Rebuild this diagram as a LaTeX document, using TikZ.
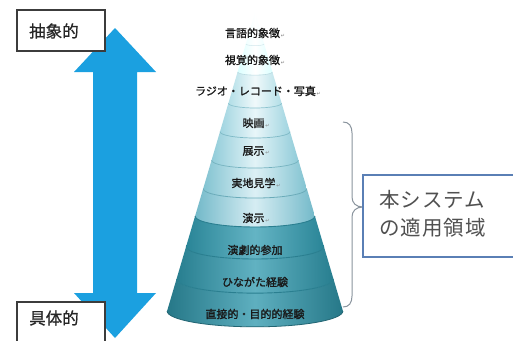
\documentclass[tikz,border=0pt]{standalone}
\usepackage{fontspec}
\newfontfamily\jp[FakeBold=1.3]{Noto Sans CJK JP}
\newfontfamily\jpside[FakeBold=0.8]{Noto Sans CJK JP}
\newfontfamily\jpwide[LetterSpace=5]{Noto Sans CJK JP}
\newfontfamily\dvs{DejaVu Sans}
\definecolor{arrowblue}{HTML}{1BA0E0}
\definecolor{boxgray}{HTML}{3C3C3C}
\definecolor{boxblue}{HTML}{5A7FB5}
\definecolor{bracegray}{HTML}{8A949E}
\definecolor{scopetext}{HTML}{505050}
\definecolor{lineA}{HTML}{8CC3CF}
\definecolor{lineB}{HTML}{2A7F90}
\definecolor{darkedge}{HTML}{2A8597}
\definecolor{darkmid}{HTML}{64B4C4}
\newcommand{\conecx}{255}
\newcommand{\coneband}[3]{%
  \pgfmathsetmacro\ra{0.295*(#1-13)}%
  \pgfmathsetmacro\rb{0.295*(#2-13)}%
  \pgfmathsetmacro\sa{0.18*\ra}%
  \pgfmathsetmacro\sb{0.18*\rb}%
  \path[#3] (\conecx-\ra,#1) -- (\conecx-\rb,#2)
    .. controls (\conecx-\rb,#2+0.5523*\sb) and (\conecx-0.5523*\rb,#2+\sb) .. (\conecx,#2+\sb)
    .. controls (\conecx+0.5523*\rb,#2+\sb) and (\conecx+\rb,#2+0.5523*\sb) .. (\conecx+\rb,#2)
    -- (\conecx+\ra,#1)
    .. controls (\conecx+\ra,#1+0.5523*\sa) and (\conecx+0.5523*\ra,#1+\sa) .. (\conecx,#1+\sa)
    .. controls (\conecx-0.5523*\ra,#1+\sa) and (\conecx-\ra,#1+0.5523*\sa) .. (\conecx-\ra,#1) -- cycle;
}
\newcommand{\conearc}[2]{%
  \pgfmathsetmacro\rb{0.295*(#1-13)}%
  \pgfmathsetmacro\sb{0.18*\rb}%
  \draw[#2] (\conecx-\rb,#1)
    .. controls (\conecx-\rb,#1+0.5523*\sb) and (\conecx-0.5523*\rb,#1+\sb) .. (\conecx,#1+\sb)
    .. controls (\conecx+0.5523*\rb,#1+\sb) and (\conecx+\rb,#1+0.5523*\sb) .. (\conecx+\rb,#1);
}
\newcommand{\retmark}{{\dvs\fontsize{5}{5}\selectfont\color{gray}\,↵}}
\begin{document}
\begin{tikzpicture}[x=1pt,y=-1pt,
  conetext/.style={font=\jp\fontsize{11}{13}\selectfont, text=black!90, inner sep=0pt},
  sidebox/.style={draw=boxgray, line width=1.1pt, fill=white},
  sidetext/.style={font=\jpside\fontsize{16.5}{18}\selectfont, text=black!85, inner sep=0pt, anchor=west},
  lband/.style={left color=#1, right color=#1},
]
\useasboundingbox (0,0) rectangle (513,340);
\fill[white] (0,0) rectangle (513,340);

% double arrow
\fill[arrowblue] (115,28) -- (156,72) -- (137,72) -- (137,293) -- (156,293)
  -- (115,338) -- (74,293) -- (93,293) -- (93,72) -- (74,72) -- cycle;

% left boxes
\draw[sidebox] (17,10) rectangle (105,51);
\node[sidetext] (abstract) at (29,31) {抽象的};
\draw[sidebox] (17,302) rectangle (105,350);
\node[sidetext] (concrete) at (29,318) {具体的};

% cone bands
\coneband{13}{44}{lband=cyan!6!white, middle color=white}
\coneband{44}{72}{lband=cyan!14!white, middle color=white}
\coneband{72}{103.2}{left color={rgb,255:red,178;green,222;blue,231}, right color={rgb,255:red,178;green,222;blue,231}, middle color={rgb,255:red,240;green,249;blue,251}}
\coneband{103.2}{131.7}{left color={rgb,255:red,160;green,212;blue,224}, right color={rgb,255:red,160;green,212;blue,224}, middle color={rgb,255:red,232;green,246;blue,249}}
\coneband{131.7}{160.2}{left color={rgb,255:red,145;green,204;blue,217}, right color={rgb,255:red,145;green,204;blue,217}, middle color={rgb,255:red,226;green,243;blue,247}}
\coneband{160.2}{188.7}{left color={rgb,255:red,130;green,195;blue,209}, right color={rgb,255:red,130;green,195;blue,209}, middle color={rgb,255:red,220;green,240;blue,245}}
\coneband{188.7}{216.2}{left color={rgb,255:red,115;green,185;blue,201}, right color={rgb,255:red,115;green,185;blue,201}, middle color={rgb,255:red,214;green,237;blue,243}}
\coneband{216.2}{246.6}{left color=darkedge, right color=darkedge, middle color=darkmid}
\coneband{246.6}{279}{left color=darkedge!95!black, right color=darkedge!95!black, middle color=darkmid!95!darkedge}
\coneband{279}{311}{left color=darkedge!90!black, right color=darkedge!90!black, middle color=darkmid!90!darkedge}

% band boundaries
\conearc{44}{lineA!40!white, line width=0.5pt}
\conearc{72}{lineA!60!white, line width=0.6pt}
\conearc{103.2}{lineA, line width=0.7pt}
\conearc{131.7}{lineA!85!lineB, line width=0.7pt}
\conearc{160.2}{lineA!75!lineB, line width=0.7pt}
\conearc{188.7}{lineA!65!lineB, line width=0.8pt}
\conearc{216.2}{lineB, line width=0.9pt}
\conearc{246.6}{lineB, line width=0.9pt}
\conearc{279}{lineB, line width=0.9pt}
\conearc{311}{lineB!80!black, line width=0.8pt}

% cone labels
\node[conetext] (l1) at (255,33) {言語的象徴\retmark};
\node[conetext] (l2) at (255,60) {視覚的象徴\retmark};
\node[conetext] (l3) at (258,91) {ラジオ・レコード・写真\retmark};
\node[conetext] (l4) at (256,123) {映画\retmark};
\node[conetext] (l5) at (256,151) {展示\retmark};
\node[conetext] (l6) at (256,183) {実地見学\retmark};
\node[conetext] (l7) at (256,218) {演示\retmark};
\node[conetext] (l8) at (255,250) {演劇的参加};
\node[conetext] (l9) at (255,282) {ひながた経験};
\node[conetext] (l10) at (255,314) {直接的・目的的経験};

% brace
\coordinate (btop) at (343,122);
\coordinate (btip) at (363,207);
\coordinate (bbot) at (343,307);
\draw[bracegray, line width=1pt] (btop) .. controls (349,122) and (352,126) .. (352,133)
  -- (352,197) .. controls (352,203) and (356,207) .. (btip)
  .. controls (356,207) and (352,211) .. (352,217)
  -- (352,296) .. controls (352,303) and (349,307) .. (bbot);

% scope box
\draw[boxblue, line width=1.1pt, fill=white] (363,175) rectangle (530,257);
\node[font=\jpwide\fontsize{20.5}{28}\selectfont, text=scopetext, align=left, anchor=west, inner sep=0pt] (scope) at (379,214) {本システム\\の適用領域};
\end{tikzpicture}
\end{document}
